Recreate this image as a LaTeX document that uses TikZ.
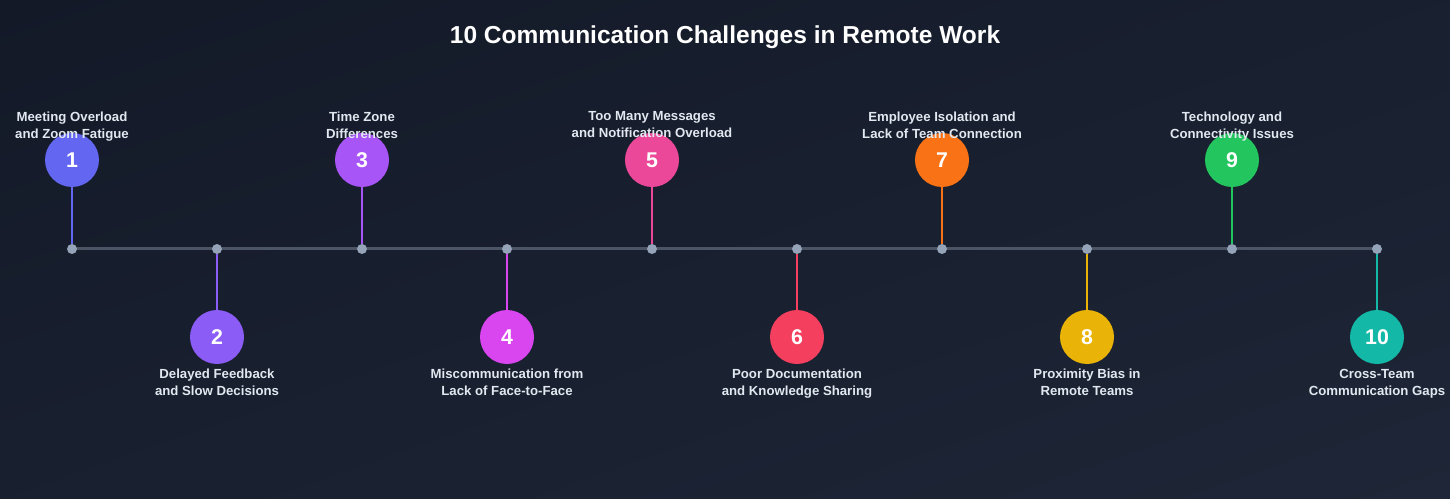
\documentclass[tikz,border=0pt]{standalone}
\usepackage{fontspec}
\setmainfont{Liberation Sans}
\usepackage{tikz}
\usetikzlibrary{positioning,shadings}

\definecolor{bgdark}{HTML}{131927}
\definecolor{bglight}{HTML}{1E2637}
\definecolor{lineclr}{HTML}{4B5565}
\definecolor{dotclr}{HTML}{94A3B8}
\definecolor{txtclr}{HTML}{E2E8F0}
\definecolor{oneclr}{HTML}{6366F1}
\definecolor{twoclr}{HTML}{8B5CF6}
\definecolor{threeclr}{HTML}{A855F7}
\definecolor{fourclr}{HTML}{D946EF}
\definecolor{fiveclr}{HTML}{EC4899}
\definecolor{sixclr}{HTML}{F43F5E}
\definecolor{sevenclr}{HTML}{F97316}
\definecolor{eightclr}{HTML}{EAB308}
\definecolor{nineclr}{HTML}{22C55E}
\definecolor{tenclr}{HTML}{14B8A6}
\colorlet{bgmid}{bgdark!50!bglight}

\tikzset{
  badge/.style={circle, fill=#1, minimum size=40.5pt, inner sep=0pt, text=white,
    font=\bfseries\fontsize{16}{19}\selectfont},
  tick/.style={circle, fill=dotclr, minimum size=7.5pt, inner sep=0pt},
  caption/.style={align=center, text=txtclr, inner sep=0pt,
    font=\bfseries\fontsize{9.9}{12.75}\selectfont,
    execute at begin node=\strut, execute at end node=\strut},
  stem/.style={line width=1.5pt, draw=#1}
}

\begin{document}
\begin{tikzpicture}[x=0.75pt, y=-0.75pt]
    % Background
    \useasboundingbox (0,0) rectangle (1450,499);
    \shade[upper left=bgdark, upper right=bgmid, lower left=bgmid, lower right=bglight]
        (0,0) rectangle (1450,499);

    % Title
    \node[text=white, font=\bfseries\fontsize{18.4}{22}\selectfont] (title) at (725,37.5)
        {10 Communication Challenges in Remote Work};

    % Main line (drawn under the ticks)
    \coordinate (start) at (72,249);
    \coordinate (end) at (1377,249);
    \draw[lineclr, line width=2.25pt] (start) -- (end);

    % Timeline ticks
    \node[tick] (d1) at (72,249) {};
    \node[tick] (d2) at (217,249) {};
    \node[tick] (d3) at (362,249) {};
    \node[tick] (d4) at (507,249) {};
    \node[tick] (d5) at (652,249) {};
    \node[tick] (d6) at (797,249) {};
    \node[tick] (d7) at (942,249) {};
    \node[tick] (d8) at (1087,249) {};
    \node[tick] (d9) at (1232,249) {};
    \node[tick] (d10) at (1377,249) {};

    % Badges
    \node[badge=oneclr] (c1) at (72,160) {1};
    \node[badge=twoclr] (c2) at (217,337) {2};
    \node[badge=threeclr] (c3) at (362,160) {3};
    \node[badge=fourclr] (c4) at (507,337) {4};
    \node[badge=fiveclr] (c5) at (652,160) {5};
    \node[badge=sixclr] (c6) at (797,337) {6};
    \node[badge=sevenclr] (c7) at (942,160) {7};
    \node[badge=eightclr] (c8) at (1087,337) {8};
    \node[badge=nineclr] (c9) at (1232,160) {9};
    \node[badge=tenclr] (c10) at (1377,337) {10};

    % Stems
    \draw[stem=oneclr] (c1) -- (d1);
    \draw[stem=twoclr] (d2) -- (c2);
    \draw[stem=threeclr] (c3) -- (d3);
    \draw[stem=fourclr] (d4) -- (c4);
    \draw[stem=fiveclr] (c5) -- (d5);
    \draw[stem=sixclr] (d6) -- (c6);
    \draw[stem=sevenclr] (c7) -- (d7);
    \draw[stem=eightclr] (d8) -- (c8);
    \draw[stem=nineclr] (c9) -- (d9);
    \draw[stem=tenclr] (d10) -- (c10);

    % Labels above the line
    \node[caption] (l1) at (72,127.5) {Meeting Overload\\and Zoom Fatigue};
    \node[caption] (l3) at (362,127.5) {Time Zone\\Differences};
    \node[caption] (l5) at (652,127.5) {Too Many Messages\\and Notification Overload};
    \node[caption] (l7) at (942,127.5) {Employee Isolation and\\Lack of Team Connection};
    \node[caption] (l9) at (1232,127.5) {Technology and\\Connectivity Issues};

    % Labels below the line
    \node[caption] (l2) at (217,384.5) {Delayed Feedback\\and Slow Decisions};
    \node[caption] (l4) at (507,384.5) {Miscommunication from\\Lack of Face-to-Face};
    \node[caption] (l6) at (797,384.5) {Poor Documentation\\and Knowledge Sharing};
    \node[caption] (l8) at (1087,384.5) {Proximity Bias in\\Remote Teams};
    \node[caption] (l10) at (1377,384.5) {Cross-Team\\Communication Gaps};
\end{tikzpicture}
\end{document}
